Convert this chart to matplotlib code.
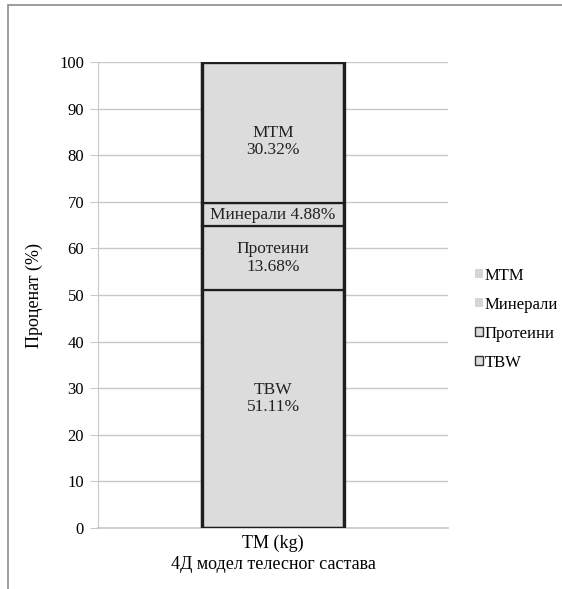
import matplotlib.pyplot as plt
from matplotlib.patches import Patch, Rectangle

plt.rcParams["font.family"] = ["Liberation Serif", "DejaVu Serif"]

category = ["TM (kg)"]
components = ["TBW", "Протеини", "Минерали", "MTM"]
values = [51.11, 13.68, 4.88, 30.32]
labels = ["TBW\n51.11%", "Протеини\n13.68%", "Минерали 4.88%", "MTM\n30.32%"]
y_ticks = list(range(0, 101, 10))

# small vertical nudges (points) of the in-bar labels, as in the original
label_shift = [7.5, 0, 0, -6.5]

fig = plt.figure(figsize=(5.62, 5.89), dpi=100)
ax = fig.add_axes([0.1744, 0.1036, 0.6228, 0.7911])

# outer frame of the original figure
fig.patches.append(Rectangle((8 / 562, -0.05), 1.1, 1.05 - 5 / 589,
                             transform=fig.transFigure, fill=False,
                             edgecolor="#8c8c8c", linewidth=1.2))

ax.yaxis.grid(True, color="#c8c8c8", linewidth=1.0)
ax.set_axisbelow(True)

bar_w = 0.406
bottom = 0
for comp, val, lab, dy in zip(components, values, labels, label_shift):
    ax.bar(category, val, bottom=bottom, width=bar_w, color="#dcdcdc",
           edgecolor="#1e1e1e", linewidth=1.6, zorder=2)
    ax.annotate(lab, (0, bottom + val / 2), xytext=(0, dy),
                textcoords="offset points", ha="center", va="center",
                fontsize=12.5, color="#222222", linespacing=1.1, zorder=3)
    bottom += val
# thick outline round the whole column
ax.bar(category, bottom, width=bar_w, fill=False, edgecolor="#1e1e1e",
       linewidth=2.4, zorder=3)

ax.set_xlim(-0.5, 0.5)
ax.set_ylim(0, 100)
ax.set_yticks(y_ticks)
ax.tick_params(axis="y", length=6, color="#c8c8c8", labelsize=12, pad=4)
ax.tick_params(axis="x", length=0, labelsize=13, pad=5)
for side in ["top", "right"]:
    ax.spines[side].set_visible(False)
ax.spines["left"].set_color("#c8c8c8")
ax.spines["bottom"].set_color("#c8c8c8")
ax.spines["bottom"].set_linewidth(1.2)
ax.set_ylabel("Проценат (%)", fontsize=13, labelpad=12)
ax.set_xlabel("4Д модел телесног састава", fontsize=13, labelpad=3)

handles = [
    Patch(facecolor="#d6d6d6", edgecolor="none", label="MTM"),
    Patch(facecolor="#d6d6d6", edgecolor="none", label="Минерали"),
    Patch(facecolor="#dcdcdc", edgecolor="#333333", label="Протеини"),
    Patch(facecolor="#dcdcdc", edgecolor="#333333", label="TBW"),
]
fig.legend(handles=handles, loc="center left", bbox_to_anchor=(0.846, 0.458),
           frameon=False, fontsize=12, handlelength=0.45, handleheight=0.45,
           handletextpad=0.1, labelspacing=0.78, borderpad=0,
           borderaxespad=0)

fig.savefig("out.png", dpi=100)
